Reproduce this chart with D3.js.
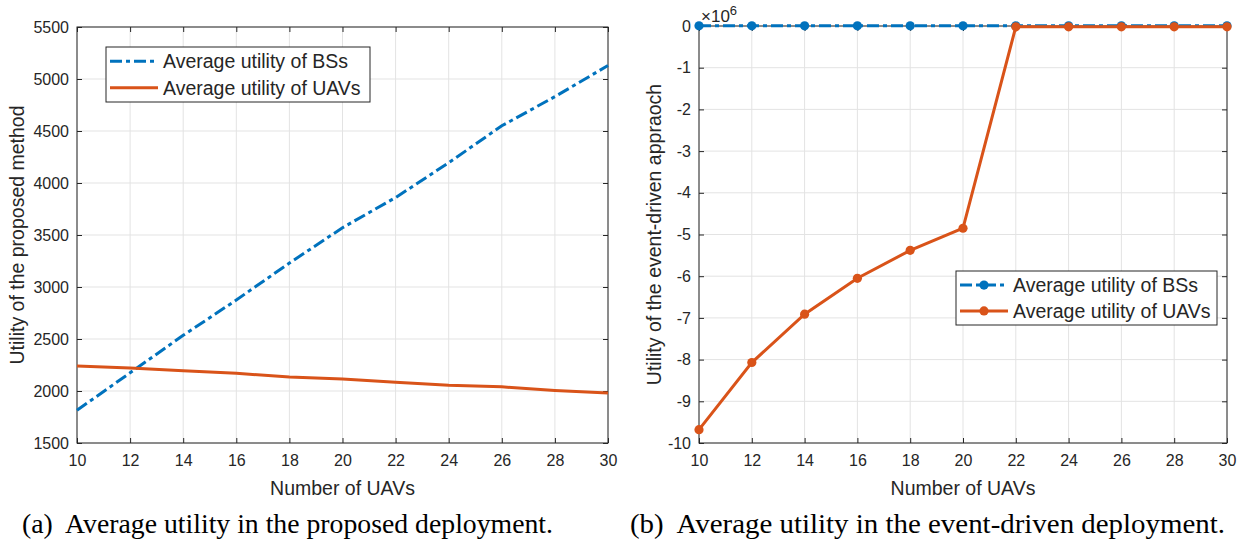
<!DOCTYPE html>
<html><head><meta charset="utf-8">
<script src="https://cdn.jsdelivr.net/npm/d3@7"></script>
<style>
body{margin:0;background:#fff;}
svg{display:block;}
text{font-family:"Liberation Sans",Arial,Helvetica,sans-serif;fill:#262626;}
.cap{font-family:"Liberation Serif","Times New Roman",serif;fill:#000;}
</style></head>
<body>
<svg id="chart" width="1246" height="542"></svg>
<script>
// ---- data ----
const uavCounts = [10,12,14,16,18,20,22,24,26,28,30];
const proposedBS = [1815,2175,2535,2875,3230,3570,3860,4195,4550,4830,5130];
const proposedUAV = [2240,2220,2195,2170,2135,2115,2085,2055,2040,2005,1980];
const eventBS = [0.005,0.005,0.005,0.005,0.005,0.005,0.005,0.005,0.005,0.005,0.005];
const eventUAV = [-9.68,-8.07,-6.91,-6.05,-5.38,-4.85,-0.02,-0.02,-0.02,-0.02,-0.02];
const xTickValues = [10,12,14,16,18,20,22,24,26,28,30];
const leftYTicks = [1500,2000,2500,3000,3500,4000,4500,5000,5500];
const rightYTicks = [0,-1,-2,-3,-4,-5,-6,-7,-8,-9,-10];
const rightYTickLabels = ["0","-1","-2","-3","-4","-5","-6","-7","-8","-9","-10"];
const seriesNames = ["Average utility of BSs","Average utility of UAVs"];
const captions = ["(a)\u00a0 Average utility in the proposed deployment.","(b)\u00a0 Average utility in the event-driven deployment."];
const yTitles = ["Utility of the proposed method","Utility of the event-driven appraoch"];
const xTitle = "Number of UAVs";

const BLUE = "#0072BD", ORANGE = "#D95319";
const svg = d3.select("#chart");

function panel(cfg){
  const g = svg.append("g");
  const x = d3.scaleLinear().domain([10,30]).range([cfg.x0,cfg.x1]);
  const y = d3.scaleLinear().domain(cfg.ydom).range([cfg.y1,cfg.y0]);
  // grid
  g.append("g").selectAll("line").data(xTickValues).join("line")
    .attr("x1",d=>x(d)).attr("x2",d=>x(d)).attr("y1",cfg.y0).attr("y2",cfg.y1)
    .attr("stroke","#e3e3e3").attr("stroke-width",1);
  g.append("g").selectAll("line").data(cfg.yticks).join("line")
    .attr("y1",d=>y(d)).attr("y2",d=>y(d)).attr("x1",cfg.x0).attr("x2",cfg.x1)
    .attr("stroke","#e3e3e3").attr("stroke-width",1);
  // axes with inward ticks
  const fmt = cfg.ylabels ? (d)=>cfg.ylabels[cfg.yticks.indexOf(d)] : d3.format("d");
  const ax = g.append("g").attr("transform",`translate(0,${cfg.y1})`)
    .call(d3.axisBottom(x).tickValues(xTickValues).tickSize(-5).tickPadding(12).tickFormat(d3.format("d")));
  const ay = g.append("g").attr("transform",`translate(${cfg.x0},0)`)
    .call(d3.axisLeft(y).tickValues(cfg.yticks).tickSize(-5).tickPadding(8).tickFormat(fmt));
  const axt = g.append("g").attr("transform",`translate(0,${cfg.y0})`)
    .call(d3.axisTop(x).tickValues(xTickValues).tickSize(-5).tickFormat(""));
  const ayr = g.append("g").attr("transform",`translate(${cfg.x1},0)`)
    .call(d3.axisRight(y).tickValues(cfg.yticks).tickSize(-5).tickFormat(""));
  [ax,ay,axt,ayr].forEach(a=>{
    a.select(".domain").remove();
    a.selectAll("line").attr("stroke","#262626");
    a.selectAll("text").style("font-size","16px").attr("fill","#262626")
      .style("font-family",'"Liberation Sans",Arial,sans-serif');
  });
  g.append("rect").attr("x",cfg.x0).attr("y",cfg.y0).attr("width",cfg.x1-cfg.x0).attr("height",cfg.y1-cfg.y0)
    .attr("fill","none").attr("stroke","#262626").attr("stroke-width",1);
  // titles
  g.append("text").attr("x",(cfg.x0+cfg.x1)/2).attr("y",495).attr("text-anchor","middle")
    .style("font-size","19.5px").text(xTitle);
  g.append("text").attr("transform",`translate(${cfg.ylx},${(cfg.y0+cfg.y1)/2}) rotate(-90)`)
    .attr("text-anchor","middle").style("font-size","19.5px").text(cfg.ytitle);
  // lines
  const line = d3.line().x((d,i)=>x(uavCounts[i])).y(d=>y(d));
  const series = [
    {vals:cfg.bs,color:BLUE,dash:"12,4,4,4"},
    {vals:cfg.uav,color:ORANGE,dash:null}
  ];
  series.forEach(s=>{
    g.append("path").datum(s.vals).attr("d",line).attr("fill","none")
      .attr("stroke",s.color).attr("stroke-width",3)
      .attr("stroke-dasharray",s.dash);
    if(cfg.markers){
      g.append("g").selectAll("circle").data(s.vals).join("circle")
        .attr("cx",(d,i)=>x(uavCounts[i])).attr("cy",d=>y(d)).attr("r",4.6).attr("fill",s.color);
    }
  });
  // legend
  const L = cfg.legend;
  const lg = g.append("g");
  lg.append("rect").attr("x",L.x).attr("y",L.y).attr("width",L.w).attr("height",L.h)
    .attr("fill","#fff").attr("stroke","#262626").attr("stroke-width",1);
  series.forEach((s,i)=>{
    const yy = L.y + L.h*(i===0?0.26:0.74);
    lg.append("line").attr("x1",L.x+4).attr("x2",L.x+52).attr("y1",yy).attr("y2",yy)
      .attr("stroke",s.color).attr("stroke-width",3).attr("stroke-dasharray",s.dash);
    if(cfg.markers) lg.append("circle").attr("cx",L.x+28).attr("cy",yy).attr("r",4.6).attr("fill",s.color);
    lg.append("text").attr("x",L.x+57).attr("y",yy).attr("dy","0.35em")
      .style("font-size","19.5px").attr("fill","#000").text(seriesNames[i]);
  });
  return {x,y,g};
}

panel({x0:77,x1:608,y0:27,y1:443,ydom:[1500,5500],yticks:leftYTicks,
  bs:proposedBS,uav:proposedUAV,markers:false,ylx:24,ytitle:yTitles[0],
  legend:{x:106,y:47,w:264,h:55}});
panel({x0:699,x1:1227,y0:26,y1:443,ydom:[-10,0],yticks:rightYTicks,ylabels:rightYTickLabels,
  bs:eventBS,uav:eventUAV,markers:true,ylx:661,ytitle:yTitles[1],
  legend:{x:956,y:271,w:261,h:54}});
// exponent label
const ex = svg.append("text").attr("x",701).attr("y",22).style("font-size","17px").attr("fill","#262626");
ex.append("tspan").text("\u00d710");
ex.append("tspan").attr("dy",-7).style("font-size","13px").text("6");

// captions
svg.append("text").attr("class","cap").attr("x",22).attr("y",533).style("font-size","27px")
  .attr("textLength",531).attr("lengthAdjust","spacingAndGlyphs").text(captions[0]);
svg.append("text").attr("class","cap").attr("x",630).attr("y",533).style("font-size","27px")
  .attr("textLength",595).attr("lengthAdjust","spacingAndGlyphs").text(captions[1]);
</script>
</body></html>
